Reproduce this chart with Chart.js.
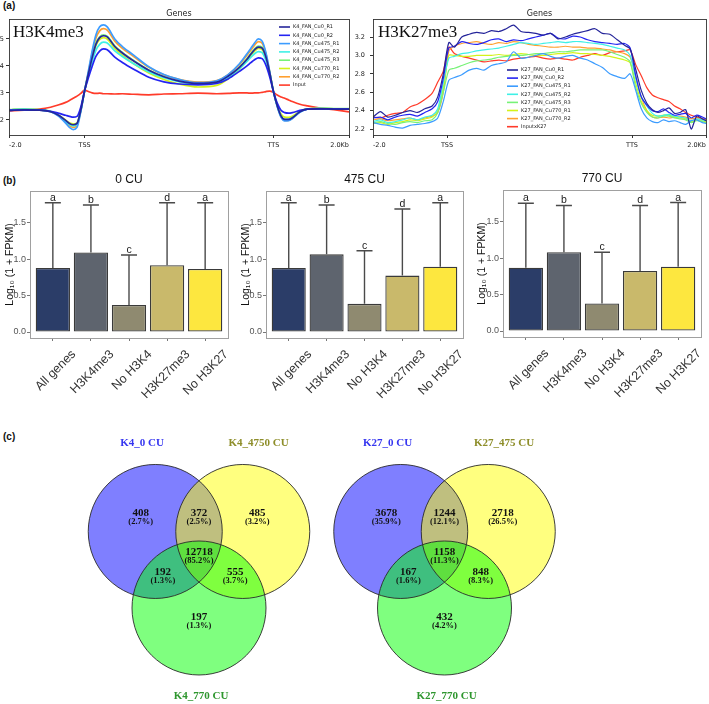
<!DOCTYPE html>
<html><head><meta charset="utf-8">
<script src="https://cdn.jsdelivr.net/npm/chart.js@4.4.1/dist/chart.umd.min.js"></script>
<style>
html,body{margin:0;padding:0;background:#fff}
#wrap{position:relative;width:709px;height:704px;overflow:hidden;background:#fff}
canvas{position:absolute;display:block}
.pl{position:absolute;font:bold 10px "Liberation Sans",Arial,sans-serif;color:#111;line-height:12px}
</style></head><body><div id="wrap">
<div class="pl" style="left:3px;top:0px">(a)</div>
<div class="pl" style="left:3px;top:175px">(b)</div>
<div class="pl" style="left:3px;top:431px">(c)</div>
<canvas id="cK4" width="354" height="160" style="left:0;top:0"></canvas>
<canvas id="cK27" width="355" height="160" style="left:354px;top:0"></canvas>
<canvas id="cB0" width="236" height="240" style="left:0;top:172px"></canvas>
<canvas id="cB475" width="236" height="240" style="left:236px;top:172px"></canvas>
<canvas id="cB770" width="237" height="240" style="left:472px;top:172px"></canvas>
<canvas id="cV4" width="320" height="284" style="left:0;top:420px"></canvas>
<canvas id="cV27" width="389" height="284" style="left:320px;top:420px"></canvas>
</div>
<script>
// ================= DATA =================
// (a) profile plots: x position in bins (-2.0 kb .. TSS .. TTS .. +2.0 kb)
const profileTickPos = [0, 20, 70, 90];
const profileTickLabels = ['-2.0', 'TSS', 'TTS', '2.0Kb'];

const k4Bins = [0,4,8,11,13,15,16,17,18,19,20,21,22,23,24,25,26,28,30,33,37,41,45,50,55,58,61,63,64,65,66,67,68,69,70,71,72,73,74,75,77,79,82,86,90];
const k4Names = ['K4_FAN_Cu0_R1','K4_FAN_Cu0_R2','K4_FAN_Cu475_R1','K4_FAN_Cu475_R2','K4_FAN_Cu475_R3','K4_FAN_Cu770_R1','K4_FAN_Cu770_R2','Input'];
const k4Cu0R1   = [2.35,2.37,2.36,2.3,2.18,1.98,1.87,1.82,1.87,2.36,3.07,3.7,4.3,4.8,5.05,5.12,5.08,4.72,4.48,4.18,3.84,3.6,3.44,3.35,3.4,3.62,3.95,4.25,4.43,4.6,4.7,4.66,4.33,3.75,3.05,2.52,2.15,2.02,2.02,2.08,2.3,2.4,2.41,2.4,2.4];
const k4Cu0R2   = [2.35,2.37,2.36,2.32,2.25,2.17,2.13,2.1,2.13,2.47,3.07,3.55,3.98,4.35,4.55,4.63,4.6,4.33,4.13,3.88,3.58,3.41,3.33,3.3,3.35,3.52,3.8,4.0,4.12,4.23,4.3,4.27,4.03,3.6,3.05,2.62,2.36,2.27,2.25,2.27,2.35,2.4,2.41,2.4,2.4];
const k4Cu475R1 = [2.36,2.38,2.37,2.3,2.15,1.88,1.72,1.64,1.72,2.3,3.07,3.8,4.55,5.15,5.45,5.52,5.45,5.0,4.72,4.4,3.97,3.68,3.5,3.38,3.45,3.68,4.08,4.45,4.65,4.85,5.0,4.92,4.5,3.8,3.05,2.5,2.1,1.96,1.97,2.05,2.28,2.4,2.42,2.4,2.4];
const k4Cu475R2 = [2.37,2.39,2.37,2.31,2.17,1.94,1.83,1.78,1.84,2.35,3.07,3.65,4.15,4.58,4.8,4.88,4.85,4.56,4.35,4.08,3.78,3.56,3.42,3.34,3.39,3.58,3.9,4.17,4.32,4.45,4.53,4.49,4.2,3.7,3.05,2.52,2.14,2.01,2.02,2.08,2.3,2.41,2.42,2.41,2.41];
const k4Cu475R3 = [2.38,2.4,2.38,2.32,2.18,1.96,1.85,1.8,1.85,2.35,3.07,3.72,4.35,4.85,5.08,5.15,5.1,4.75,4.5,4.2,3.85,3.6,3.43,3.33,3.38,3.6,3.95,4.27,4.46,4.63,4.74,4.7,4.38,3.77,3.05,2.52,2.13,2.0,2.01,2.07,2.3,2.41,2.43,2.42,2.42];
const k4Cu770R1 = [2.37,2.39,2.37,2.31,2.19,1.99,1.89,1.85,1.89,2.38,3.07,3.68,4.25,4.75,4.98,5.05,5.0,4.65,4.4,4.08,3.74,3.5,3.33,3.22,3.28,3.52,3.88,4.2,4.38,4.55,4.65,4.61,4.3,3.74,3.05,2.56,2.22,2.1,2.09,2.13,2.32,2.41,2.42,2.41,2.41];
const k4Cu770R2 = [2.37,2.39,2.38,2.31,2.17,1.93,1.79,1.72,1.78,2.33,3.07,3.75,4.45,5.03,5.3,5.38,5.33,4.92,4.65,4.35,3.95,3.67,3.5,3.4,3.46,3.68,4.05,4.4,4.58,4.77,4.9,4.84,4.45,3.78,3.05,2.52,2.12,1.98,1.98,2.06,2.3,2.41,2.42,2.41,2.41];
const k4Input   = [2.33,2.36,2.4,2.47,2.55,2.65,2.72,2.8,2.88,2.98,3.1,3.05,3.0,2.98,2.99,2.97,2.97,2.96,2.97,2.95,2.93,2.96,2.97,2.99,2.97,2.98,3.0,3.0,2.99,3.0,3.0,3.02,3.05,3.07,3.02,2.92,2.85,2.8,2.74,2.68,2.58,2.52,2.45,2.38,2.3];
const k4YTicks = [2, 3, 4, 5];

const k27Bins = [0,2,4,6,8,10,12,14,16,17.5,19,20.5,22,24,26,28,30,32,34,36,38,40,42,44,46,48,50,52,54,56,58,60,62,64,66,68,69.5,71,72.5,74,75.5,77,78.5,80,81.5,83,84.5,86,87.5,89,90];
const k27Names = ['K27_FAN_Cu0_R1','K27_FAN_Cu0_R2','K27_FAN_Cu475_R1','K27_FAN_Cu475_R2','K27_FAN_Cu475_R3','K27_FAN_Cu770_R1','K27_FAN_Cu770_R2','InputxK27'];
const k27Cu0R1   = [2.33,2.39,2.33,2.35,2.38,2.4,2.38,2.42,2.45,2.55,2.8,3.14, 3.09,3.2,3.23,3.25,3.24,3.27,3.26,3.29,3.33,3.26,3.25,3.24,3.22,3.24,3.18,3.2,3.23,3.25,3.27,3.29,3.24,3.23,3.17,3.11, 3.07,2.85,2.62,2.48,2.41,2.38,2.4,2.43,2.37,2.38,2.41,2.2,2.34,2.31,2.29];
const k27Cu0R2   = [2.32,2.33,2.3,2.33,2.35,2.36,2.34,2.38,2.42,2.5,2.75,3.08, 3.1,3.15,3.13,3.12,3.14,3.17,3.18,3.15,3.17,3.16,3.18,3.2,3.22,3.24,3.19,3.18,3.21,3.2,3.17,3.15,3.14,3.13,3.12,3.13, 3.08,2.78,2.55,2.46,2.4,2.39,2.42,2.38,2.35,2.36,2.37,2.32,2.35,2.33,2.31];
const k27Cu475R1 = [2.27,2.25,2.24,2.22,2.21,2.24,2.25,2.26,2.28,2.32,2.5,2.73, 2.76,2.79,2.84,2.86,2.84,2.89,2.91,2.93,3.04,2.97,2.98,3.0,3.02,2.99,2.97,2.99,3.0,2.97,2.95,2.91,2.87,2.8,2.77,2.75, 2.8,2.62,2.42,2.32,2.28,2.27,2.3,2.28,2.29,2.27,2.25,2.29,2.3,2.27,2.26];
const k27Cu475R2 = [2.28,2.3,2.27,2.28,2.3,2.32,2.3,2.33,2.35,2.42,2.7,2.97, 2.99,3.02,3.03,3.05,3.06,3.07,3.08,3.1,3.12,3.14,3.13,3.12,3.13,3.14,3.15,3.14,3.15,3.15,3.14,3.13,3.12,3.1,3.08,3.06, 3.0,2.75,2.55,2.45,2.37,2.34,2.35,2.36,2.34,2.33,2.32,2.29,2.31,2.3,2.29];
const k27Cu475R3 = [2.27,2.28,2.26,2.25,2.27,2.28,2.27,2.29,2.3,2.38,2.6,2.84, 2.86,2.89,2.92,2.94,2.95,2.96,2.98,2.99,3.0,3.0,3.01,3.02,3.02,3.03,3.04,3.04,3.05,3.06,3.06,3.06,3.06,3.04,3.01,2.98, 2.93,2.65,2.48,2.38,2.33,2.32,2.34,2.34,2.32,2.31,2.3,2.27,2.29,2.28,2.27];
const k27Cu770R1 = [2.26,2.27,2.25,2.27,2.28,2.3,2.29,2.31,2.33,2.4,2.65,3.0, 3.0,2.99,2.99,3.0,3.0,3.0,3.01,3.0,3.01,3.02,3.01,3.0,3.0,3.01,3.02,3.02,3.03,3.02,3.02,3.01,3.0,2.99,2.97,2.95, 2.92,2.7,2.5,2.4,2.35,2.34,2.35,2.35,2.33,2.32,2.31,2.28,2.3,2.29,2.28];
const k27Cu770R2 = [2.3,2.31,2.29,2.3,2.31,2.32,2.3,2.32,2.34,2.38,2.6,3.05, 3.1,3.13,3.14,3.15,3.13,3.12,3.14,3.13,3.15,3.14,3.12,3.11,3.1,3.09,3.09,3.1,3.09,3.09,3.08,3.08,3.07,3.06,3.04,3.02, 2.98,2.78,2.55,2.4,2.33,2.32,2.33,2.32,2.33,2.34,2.33,2.31,2.32,2.31,2.3];
const k27Input   = [2.33,2.32,2.35,2.37,2.38,2.44,2.47,2.52,2.59,2.71,2.83,3.09, 3.02,2.99,2.97,2.95,2.93,2.94,2.95,2.94,2.96,2.97,2.98,2.99,2.97,2.96,2.97,2.96,2.95,2.98,3.0,3.02,3.0,3.03,3.04,3.05, 3.06,2.9,2.78,2.65,2.57,2.54,2.52,2.5,2.45,2.42,2.38,2.35,2.33,2.31,2.3];
const k27YTicks = [2.2, 2.4, 2.6, 2.8, 3.0, 3.2];

// (b) expression bar plots
const barCategories = ['All genes', 'H3K4me3', 'No H3K4', 'H3K27me3', 'No H3K27'];
const barLetters = ['a', 'b', 'c', 'd', 'a'];
const cu0Means    = [0.877, 1.09, 0.37, 0.914, 0.864];
const cu0Upper    = [1.77, 1.74, 1.055, 1.77, 1.77];
const cu475Means  = [0.877, 1.064, 0.386, 0.773, 0.895];
const cu475Upper  = [1.77, 1.74, 1.114, 1.685, 1.77];
const cu770Means  = [0.868, 1.08, 0.377, 0.823, 0.882];
const cu770Upper  = [1.75, 1.72, 1.08, 1.72, 1.76];
const barYTicks = [0, 0.5, 1.0, 1.5];

// (c) Venn diagrams: regions A, AB, B, ABC, AC, BC, C
const k4SetNames  = ['K4_0 CU', 'K4_4750 CU', 'K4_770 CU'];
const k4Counts    = [408, 372, 485, 12718, 192, 555, 197];
const k4Percents  = ['2.7', '2.5', '3.2', '85.2', '1.3', '3.7', '1.3'];
const k27SetNames = ['K27_0 CU', 'K27_475 CU', 'K27_770 CU'];
const k27Counts   = [3678, 1244, 2718, 1158, 167, 848, 432];
const k27Percents = ['35.9', '12.1', '26.5', '11.3', '1.6', '8.3', '4.2'];

// ================= STYLE / LAYOUT =================
const lineColors = ['#25259a', '#2424f2', '#3c9cff', '#3ff0e6', '#77f277', '#d4f21a', '#ffa030', '#ff3b2a'];
const barColors = ['#2b3d68', '#5e646e', '#8f8a70', '#c9b96b', '#fde73f'];

const framePlugin = {
  id: 'frame',
  afterDraw(chart, args, o) {
    const ca = chart.chartArea, ctx = chart.ctx;
    ctx.save();
    ctx.strokeStyle = o.color; ctx.lineWidth = o.width;
    ctx.strokeRect(Math.round(ca.left) + 0.5, Math.round(ca.top) + 0.5, Math.round(ca.right - ca.left), Math.round(ca.bottom - ca.top));
    ctx.restore();
  }
};
const headingPlugin = {
  id: 'heading',
  afterDraw(chart, args, o) {
    const ca = chart.chartArea, ctx = chart.ctx;
    ctx.save();
    ctx.fillStyle = o.color || '#111';
    ctx.font = o.font; ctx.textAlign = 'center'; ctx.textBaseline = 'middle';
    ctx.fillText(o.text, (ca.left + ca.right) / 2, ca.top - o.dy);
    if (o.big) {
      ctx.font = o.bigFont; ctx.textAlign = 'left'; ctx.textBaseline = 'alphabetic'; ctx.fillStyle = '#111';
      ctx.fillText(o.big, ca.left + o.bigX, ca.top + o.bigY);
    }
    ctx.restore();
  }
};
const lineLegendPlugin = {
  id: 'lineLegend',
  afterDraw(chart, args, o) {
    const ca = chart.chartArea, ctx = chart.ctx;
    ctx.save();
    ctx.font = o.font; ctx.textAlign = 'left'; ctx.textBaseline = 'middle'; ctx.fillStyle = '#222';
    chart.data.datasets.forEach((d, i) => {
      const x = ca.left + o.dx, y = ca.top + o.dy + i * o.step;
      ctx.strokeStyle = d.borderColor; ctx.lineWidth = 1.6;
      ctx.beginPath(); ctx.moveTo(x, y); ctx.lineTo(x + o.len, y); ctx.stroke();
      ctx.fillText(d.label, x + o.len + o.gap, y);
    });
    ctx.restore();
  }
};

function profileChart(id, bins, series, names, yTicks, cfg) {
  return new Chart(document.getElementById(id), {
    type: 'line',
    data: {
      datasets: series.map((s, i) => ({
        label: names[i],
        data: s.map((v, j) => ({ x: bins[j], y: v })),
        borderColor: lineColors[i], borderWidth: cfg.lw,
        pointRadius: 0, fill: false,
        tension: cfg.tension, cubicInterpolationMode: cfg.cubic
      }))
    },
    options: {
      responsive: false, animation: false, events: [],
      layout: { padding: { top: cfg.top, right: cfg.right, left: 0, bottom: 0 } },
      plugins: {
        legend: { display: false }, tooltip: { enabled: false },
        frame: { color: '#333', width: 0.9 },
        heading: { text: 'Genes', font: '8px "DejaVu Sans"', dy: 5, color: '#222', big: cfg.big, bigFont: cfg.bigFont, bigX: cfg.bigX, bigY: cfg.bigY },
        lineLegend: cfg.legend
      },
      scales: {
        x: {
          type: 'linear', min: 0, max: 90,
          afterFit: s => { s.height = cfg.xh; },
          afterBuildTicks: s => { s.ticks = profileTickPos.map(v => ({ value: v })); },
          ticks: { callback: (v, i) => profileTickLabels[i], align: 'inner', maxRotation: 0, minRotation: 0, autoSkip: false,
                   font: { family: 'DejaVu Sans', size: 6.5 }, color: '#222', padding: 3 },
          grid: { drawOnChartArea: false, drawTicks: true, tickLength: 3, color: '#333' },
          border: { display: false }
        },
        y: {
          min: cfg.ymin, max: cfg.ymax,
          afterFit: s => { s.width = cfg.yw; },
          afterBuildTicks: s => { s.ticks = yTicks.map(v => ({ value: v })); },
          ticks: { callback: v => cfg.yfmt(v), autoSkip: false, font: { family: 'DejaVu Sans', size: 6.5 }, color: '#222', padding: cfg.ypad },
          grid: { drawOnChartArea: false, drawTicks: true, tickLength: 3, color: '#333' },
          border: { display: false }
        }
      }
    },
    plugins: [framePlugin, headingPlugin, lineLegendPlugin]
  });
}

profileChart('cK4', k4Bins,
  [k4Cu0R1, k4Cu0R2, k4Cu475R1, k4Cu475R2, k4Cu475R3, k4Cu770R1, k4Cu770R2, k4Input], k4Names, k4YTicks,
  { lw: 1.7, tension: 0.4, cubic: 'monotone', top: 19, right: 5, xh: 25, yw: 9, ypad: 2,
    ymin: 1.44, ymax: 5.74, yfmt: v => String(v),
    big: 'H3K4me3', bigFont: '17px "Liberation Serif"', bigX: 4, bigY: 18,
    legend: { font: '5px "DejaVu Sans"', dx: 270, dy: 8, step: 8.3, len: 11, gap: 3 } });

profileChart('cK27', k27Bins,
  [k27Cu0R1, k27Cu0R2, k27Cu475R1, k27Cu475R2, k27Cu475R3, k27Cu770R1, k27Cu770R2, k27Input], k27Names, k27YTicks,
  { lw: 1.2, tension: 0.25, cubic: 'default', top: 19, right: 1, xh: 25, yw: 19, ypad: 5,
    ymin: 2.135, ymax: 3.396, yfmt: v => v.toFixed(1),
    big: 'H3K27me3', bigFont: '17px "Liberation Serif"', bigX: 5, bigY: 18,
    legend: { font: '5px "DejaVu Sans"', dx: 134, dy: 51, step: 8.1, len: 11, gap: 3 } });

// ---- bar charts ----
const errorBarPlugin = {
  id: 'errorBars',
  afterDatasetsDraw(chart, args, o) {
    const ctx = chart.ctx, ys = chart.scales.y;
    const meta = chart.getDatasetMeta(0);
    ctx.save();
    meta.data.forEach((bar, i) => {
      const yTop = ys.getPixelForValue(o.upper[i]);
      ctx.strokeStyle = '#4a4a4a'; ctx.lineWidth = 1.4;
      ctx.beginPath();
      ctx.moveTo(bar.x, bar.y); ctx.lineTo(bar.x, yTop);
      ctx.moveTo(bar.x - 8, yTop); ctx.lineTo(bar.x + 8, yTop);
      ctx.stroke();
      ctx.fillStyle = '#1a1a1a'; ctx.font = '10.5px "Liberation Sans"';
      ctx.textAlign = 'center'; ctx.textBaseline = 'alphabetic';
      ctx.fillText(o.letters[i], bar.x, yTop - 2);
    });
    ctx.restore();
  }
};

function barChart(id, title, means, upper, cfg) {
  return new Chart(document.getElementById(id), {
    type: 'bar',
    data: {
      datasets: [{
        data: means.map((m, i) => ({ x: i + 1, y: m })),
        backgroundColor: barColors, borderColor: '#3a3a3a', borderWidth: 1.3, borderSkipped: false,
        barPercentage: 0.9, categoryPercentage: 1.0
      }]
    },
    options: {
      responsive: false, animation: false, events: [],
      layout: { padding: { top: cfg.top, right: cfg.right, left: 0, bottom: 0 } },
      plugins: {
        legend: { display: false }, tooltip: { enabled: false },
        frame: { color: '#a0a0a0', width: 1 },
        heading: { text: title, font: '12px "Liberation Sans"', dy: 11, color: '#111' },
        errorBars: { upper: upper, letters: barLetters }
      },
      scales: {
        x: {
          type: 'linear', min: 0.4, max: 5.6, offset: false,
          afterFit: s => { s.height = cfg.xh; },
          afterBuildTicks: s => { s.ticks = barCategories.map((c, i) => ({ value: i + 1 })); },
          ticks: { callback: (v, i) => barCategories[i], autoSkip: false, minRotation: 45, maxRotation: 45,
                   font: { family: 'Liberation Sans', size: 12.5 }, color: '#333', padding: 6, labelOffset: 21 },
          grid: { drawOnChartArea: false, drawTicks: true, tickLength: 3, color: '#777', offset: false },
          border: { display: false }
        },
        y: {
          min: -0.082, max: 1.932,
          afterFit: s => { s.width = cfg.yw; },
          afterBuildTicks: s => { s.ticks = barYTicks.map(v => ({ value: v })); },
          ticks: { callback: v => v.toFixed(1), autoSkip: false, font: { family: 'Liberation Sans', size: 9 }, color: '#555', padding: 1 },
          grid: { drawOnChartArea: false, drawTicks: true, tickLength: 3, color: '#777' },
          border: { display: false },
          title: { display: true, text: 'Log\u2081\u2080 (1 + FPKM)', font: { family: 'Liberation Sans', size: 10.5 }, color: '#111', padding: { top: 4, bottom: 0 } }
        }
      }
    },
    plugins: [framePlugin, headingPlugin, errorBarPlugin]
  });
}

barChart('cB0', '0 CU', cu0Means, cu0Upper, { top: 19, right: 8, xh: 74, yw: 30 });
barChart('cB475', '475 CU', cu475Means, cu475Upper, { top: 19, right: 9, xh: 74, yw: 30 });
barChart('cB770', '770 CU', cu770Means, cu770Upper, { top: 18, right: 8, xh: 75, yw: 31 });

// ---- Venn diagrams ----
const vennUnit = 67; // px per circle radius
const vennCircles = [[-0.653, 0.381], [0.653, 0.381], [0, -0.761]];
const vennFills = ['rgba(0,0,255,0.5)', 'rgba(255,255,0,0.5)', 'rgba(0,255,0,0.5)'];
const vennRegionPos = [[-0.87, 0.657], [0, 0.657], [0.87, 0.657], [0, 0.075], [-0.54, -0.224], [0.54, -0.224], [0, -0.896]];
const vennNamePos = [[-0.85, 1.70], [0.89, 1.70], [0.03, -2.07]];
const vennNameColors = ['#3636f0', '#8e8e2a', '#2e962e'];

const vennPlugin = {
  id: 'venn',
  afterDatasetsDraw(chart, args, o) {
    const ctx = chart.ctx, xs = chart.scales.x, ys = chart.scales.y;
    ctx.save();
    ctx.strokeStyle = '#2a2a2a'; ctx.lineWidth = 0.9;
    chart.data.datasets.forEach((d, i) => {
      const el = chart.getDatasetMeta(i).data[0];
      ctx.beginPath(); ctx.arc(el.x, el.y, el.options.radius, 0, Math.PI * 2); ctx.stroke();
    });
    ctx.textAlign = 'center'; ctx.textBaseline = 'middle'; ctx.fillStyle = '#111';
    vennRegionPos.forEach((p, i) => {
      const px = xs.getPixelForValue(p[0]), py = ys.getPixelForValue(p[1]);
      ctx.font = 'bold 11px "Liberation Serif"';
      ctx.fillText(String(o.counts[i]), px, py);
      ctx.font = 'bold 8.5px "Liberation Serif"';
      ctx.fillText('(' + o.pcts[i] + '%)', px, py + 9);
    });
    ctx.font = 'bold 11px "Liberation Serif"';
    vennNamePos.forEach((p, i) => {
      ctx.fillStyle = vennNameColors[i];
      ctx.fillText(o.names[i], xs.getPixelForValue(p[0]), ys.getPixelForValue(p[1]));
    });
    ctx.restore();
  }
};

function vennChart(id, names, counts, pcts, cx, cy, W, H) {
  const radiusPx = c => c.chart.scales.x.getPixelForValue(1) - c.chart.scales.x.getPixelForValue(0);
  return new Chart(document.getElementById(id), {
    type: 'scatter',
    data: {
      datasets: vennCircles.map((c, i) => ({
        data: [{ x: c[0], y: c[1] }],
        order: 3 - i,
        pointRadius: radiusPx, pointBackgroundColor: vennFills[i], pointBorderWidth: 0, pointBorderColor: 'rgba(0,0,0,0)'
      }))
    },
    options: {
      responsive: false, animation: false, events: [],
      layout: { padding: 0 },
      plugins: { legend: { display: false }, tooltip: { enabled: false }, venn: { names, counts, pcts } },
      scales: {
        x: { type: 'linear', display: false, min: -cx / vennUnit, max: (W - cx) / vennUnit },
        y: { type: 'linear', display: false, min: -(H - cy) / vennUnit, max: cy / vennUnit }
      }
    },
    plugins: [vennPlugin]
  });
}

vennChart('cV4', k4SetNames, k4Counts, k4Percents, 199, 137, 320, 284);
vennChart('cV27', k27SetNames, k27Counts, k27Percents, 124.5, 137, 389, 284);
</script>
</body></html>
